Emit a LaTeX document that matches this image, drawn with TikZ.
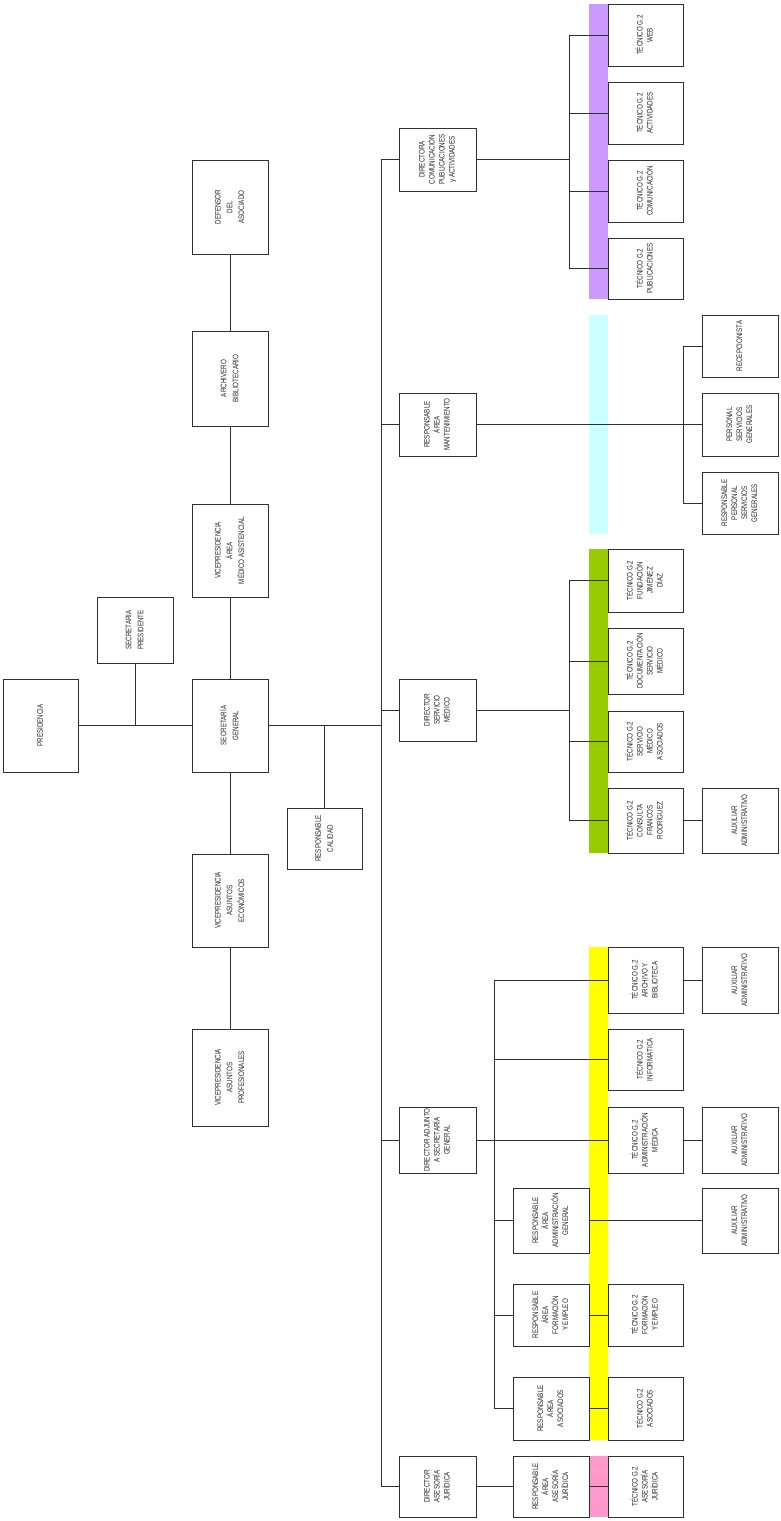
\documentclass[tikz,border=0pt]{standalone}
\usepackage{fontspec}
\usepackage{graphicx}
\setmainfont{Liberation Sans}[FakeStretch=0.78]
\definecolor{cpurple}{HTML}{CC99FF}
\definecolor{ccyan}{HTML}{CCFFFF}
\definecolor{cgreen}{HTML}{99CC00}
\definecolor{cyellow}{HTML}{FFFF00}
\definecolor{cpink}{HTML}{FF99CC}
\definecolor{lncol}{HTML}{303030}
\newcommand\lbl[1]{\rotatebox{90}{\begin{tabular}{@{}c@{}}#1\end{tabular}}}
\newcommand\bx[7]{\node[#7,minimum width={#4-#2},minimum height={#5-#3}] (#1) at ({(#2+#4)/2},{(#3+#5)/2}) {\lbl{#6}};}
\tikzset{
  box/.style={draw=lncol,fill=white,line width=0.7pt,inner sep=0pt,outer sep=0pt,rectangle,
    text=black!85,font={\fontsize{8}{10}\selectfont}},
  bigbox/.style={box,font={\fontsize{8}{11.8}\selectfont}},
  conn/.style={draw=lncol,line width=0.7pt}
}
\begin{document}
\begin{tikzpicture}[x=1pt,y=-1pt]
\fill[white] (0,0) rectangle (780,1521);
\useasboundingbox (0,0) rectangle (780,1521);
% colour bars
\fill[cpurple] (589,4) rectangle (608,299);
\fill[ccyan] (589,315) rectangle (608,534);
\fill[cgreen] (589,549) rectangle (608,853);
\fill[cyellow] (589,947) rectangle (608,1440);
\fill[cpink] (589,1456) rectangle (608,1517);
% left column
\bx{pres}{3}{679}{78}{772}{PRESIDENCIA}{bigbox}
\bx{secpres}{97}{597}{173}{663}{SECRETARIA\\PRESIDENTE}{bigbox}
\bx{sg}{192}{679}{268}{772}{SECRETARÍA\\GENERAL}{bigbox}
\bx{vpmed}{192}{504}{268}{597}{VICEPRESIDENCIA\\ÁREA\\MÉDICO ASISTENCIAL}{bigbox}
\bx{arch}{192}{331}{268}{426}{ARCHIVERO\\BIBLIOTECARIO}{bigbox}
\bx{def}{192}{160}{268}{254}{DEFENSOR\\DEL\\ASOCIADO}{bigbox}
\bx{vpeco}{192}{854}{268}{947}{VICEPRESIDENCIA\\ASUNTOS\\ECONÓMICOS}{bigbox}
\bx{vpprof}{192}{1029}{268}{1126}{VICEPRESIDENCIA\\ASUNTOS\\PROFESIONALES}{bigbox}
\bx{calidad}{287}{808}{362}{869}{RESPONSABLE\\CALIDAD}{bigbox}
% directors
\bx{dircom}{399}{128}{476}{191}{DIRECTORA\\COMUNICACIÓN\\PUBLICACIONES\\y ACTIVIDADES}{box}
\bx{mant}{399}{393}{476}{456}{RESPONSABLE\\ÁREA\\MANTENIMIENTO}{box}
\bx{dirmed}{399}{679}{476}{741}{DIRECTOR\\SERVICIO\\MÉDICO}{box}
\bx{diradj}{399}{1107}{476}{1173}{DIRECTOR ADJUNTO\\A SECRETARÍA\\GENERAL}{box}
\bx{dirjur}{399}{1456}{476}{1517}{DIRECTOR\\ASESORÍA\\JURÍDICA}{box}
% communication
\bx{web}{608}{4}{683}{66}{TÉCNICO G.2\\WEB}{box}
\bx{act}{608}{82}{683}{144}{TÉCNICO G.2\\ACTIVIDADES}{box}
\bx{comu}{608}{160}{683}{222}{TÉCNICO G.2\\COMUNICACIÓN}{box}
\bx{publ}{608}{238}{683}{299}{TÉCNICO G.2\\PUBLICACIONES}{box}
% maintenance
\bx{recep}{702}{315}{778}{377}{RECEPCIONISTA}{box}
\bx{psg}{702}{393}{778}{456}{PERSONAL\\SERVICIOS\\GENERALES}{box}
\bx{rpsg}{702}{472}{778}{534}{RESPONSABLE\\PERSONAL\\SERVICIOS\\GENERALES}{box}
% medical
\bx{fjd}{608}{549}{683}{612}{TÉCNICO G.2\\FUNDACIÓN\\JIMÉNEZ\\DÍAZ}{box}
\bx{doc}{608}{628}{683}{694}{TÉCNICO G.2\\DOCUMENTACIÓN\\SERVICIO\\MÉDICO}{box}
\bx{sma}{608}{711}{683}{772}{TÉCNICO G.2\\SERVICIO\\MÉDICO\\ASOCIADOS}{box}
\bx{cfr}{608}{788}{683}{853}{TÉCNICO G.2\\CONSULTA\\FRANCOS\\RODRÍGUEZ}{box}
\bx{auxa}{702}{788}{778}{853}{AUXILIAR\\ADMINISTRATIVO}{box}
% adjunct
\bx{arb}{608}{947}{683}{1013}{TÉCNICO G.2\\ARCHIVO Y\\BIBLIOTECA}{box}
\bx{auxb}{702}{947}{778}{1013}{AUXILIAR\\ADMINISTRATIVO}{box}
\bx{inf}{608}{1029}{683}{1090}{TÉCNICO G.2\\INFORMÁTICA}{box}
\bx{adm}{608}{1107}{683}{1173}{TÉCNICO G.2\\ADMINISTRACIÓN\\MÉDICA}{box}
\bx{auxc}{702}{1107}{778}{1173}{AUXILIAR\\ADMINISTRATIVO}{box}
\bx{rag}{513}{1188}{589}{1253}{RESPONSABLE\\ÁREA\\ADMINISTRACIÓN\\GENERAL}{box}
\bx{auxd}{702}{1188}{778}{1253}{AUXILIAR\\ADMINISTRATIVO}{box}
\bx{rfe}{513}{1284}{589}{1346}{RESPONSABLE\\ÁREA\\FORMACIÓN\\Y EMPLEO}{box}
\bx{tfe}{608}{1284}{683}{1346}{TÉCNICO G.2\\FORMACIÓN\\Y EMPLEO}{box}
\bx{ras}{513}{1377}{589}{1440}{RESPONSABLE\\ÁREA\\ASOCIADOS}{box}
\bx{tas}{608}{1377}{683}{1440}{TÉCNICO G.2\\ASOCIADOS}{box}
% legal
\bx{raj}{513}{1456}{589}{1517}{RESPONSABLE\\ÁREA\\ASESORÍA\\JURÍDICA}{box}
\bx{taj}{608}{1456}{683}{1517}{TÉCNICO G.2\\ASESORÍA\\JURÍDICA}{box}
% bracket coordinates
\coordinate (tr) at (381,0);
\coordinate (bk) at (569,0);
\coordinate (bm) at (683,0);
\coordinate (ba) at (494,0);
% top-level connectors
\draw[conn] (pres.east) -- (sg.west);
\draw[conn] (secpres.south) -- (secpres.south |- pres.east);
\draw[conn] (sg.north) -- (vpmed.south);
\draw[conn] (vpmed.north) -- (arch.south);
\draw[conn] (arch.north) -- (def.south);
\draw[conn] (sg.south) -- (vpeco.north);
\draw[conn] (vpeco.south) -- (vpprof.north);
\draw[conn] (sg.east) -- (sg.east -| tr);
\draw[conn] (calidad.north) -- (calidad.north |- sg.east);
% trunk
\draw[conn] (dircom.west) -- (dircom.west -| tr) -- (dirjur.west -| tr) -- (dirjur.west);
\draw[conn] (mant.west) -- (mant.west -| tr);
\draw[conn] (dirmed.west) -- (dirmed.west -| tr);
\draw[conn] (diradj.west) -- (diradj.west -| tr);
% communication
\draw[conn] (dircom.east) -- (dircom.east -| bk);
\draw[conn] (web.west) -- (web.west -| bk) -- (publ.west -| bk) -- (publ.west);
\draw[conn] (act.west) -- (act.west -| bk);
\draw[conn] (comu.west) -- (comu.west -| bk);
% maintenance
\draw[conn] (mant.east) -- (psg.west);
\draw[conn] (recep.west) -- (recep.west -| bm) -- (rpsg.west -| bm) -- (rpsg.west);
% medical
\draw[conn] (dirmed.east) -- (dirmed.east -| bk);
\draw[conn] (fjd.west) -- (fjd.west -| bk) -- (cfr.west -| bk) -- (cfr.west);
\draw[conn] (doc.west) -- (doc.west -| bk);
\draw[conn] (sma.west) -- (sma.west -| bk);
\draw[conn] (cfr.east) -- (auxa.west);
% adjunct
\draw[conn] (diradj.east) -- (diradj.east -| ba);
\draw[conn] (arb.west) -- (arb.west -| ba) -- (ras.west -| ba) -- (ras.west);
\draw[conn] (inf.west) -- (inf.west -| ba);
\draw[conn] (adm.west) -- (adm.west -| ba);
\draw[conn] (rag.west) -- (rag.west -| ba);
\draw[conn] (rfe.west) -- (rfe.west -| ba);
\draw[conn] (arb.east) -- (auxb.west);
\draw[conn] (adm.east) -- (auxc.west);
\draw[conn] (rag.east) -- (auxd.west);
\draw[conn] (rfe.east) -- (tfe.west);
\draw[conn] (ras.east) -- (tas.west);
% legal
\draw[conn] (dirjur.east) -- (raj.west);
\draw[conn] (raj.east) -- (taj.west);
\end{tikzpicture}
\end{document}
